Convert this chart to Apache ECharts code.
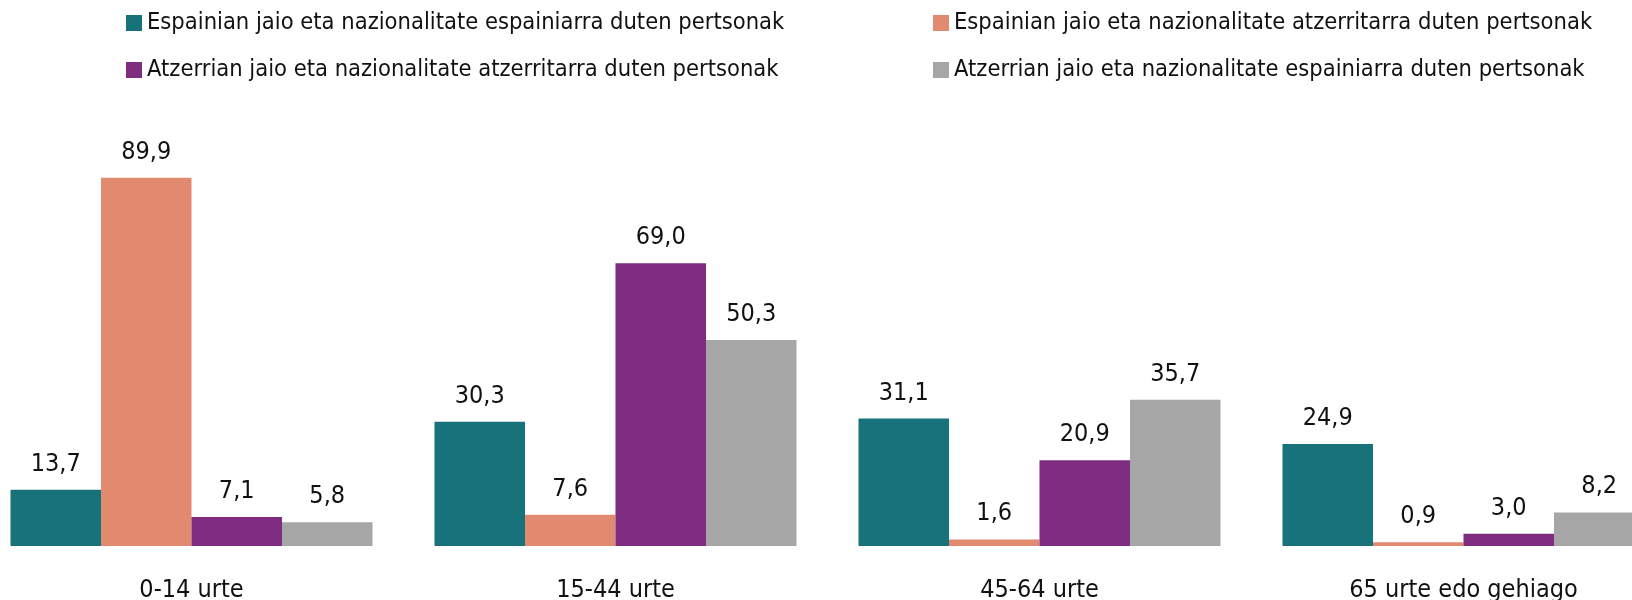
<!DOCTYPE html>
<html>
<head>
<meta charset="utf-8">
<script src="https://cdn.jsdelivr.net/npm/echarts@6/dist/echarts.min.js"></script>
<style>
  html, body { margin: 0; padding: 0; background: #fff; }
  #chart { width: 1632px; height: 600px; }
</style>
</head>
<body>
<div id="chart"></div>
<script>
const categories = ["0-14 urte", "15-44 urte", "45-64 urte", "65 urte edo gehiago"];
const seriesNames = [
  "Espainian jaio eta nazionalitate espainiarra duten pertsonak",
  "Espainian jaio eta nazionalitate atzerritarra duten pertsonak",
  "Atzerrian jaio eta nazionalitate atzerritarra duten pertsonak",
  "Atzerrian jaio eta nazionalitate espainiarra duten pertsonak",
];
const bornSpainSpanish = [13.7, 30.3, 31.1, 24.9];
const bornSpainForeign = [89.9, 7.6, 1.6, 0.9];
const bornAbroadForeign = [7.1, 69.0, 20.9, 3.0];
const bornAbroadSpanish = [5.8, 50.3, 35.7, 8.2];
const colors = ["#177379", "#E28A6F", "#7E2D80", "#A6A6A6"];

const font = "'Liberation Sans Narrow', 'DejaVu Sans Condensed', sans-serif";
const chart = echarts.init(document.getElementById("chart"));

const values = [bornSpainSpanish, bornSpainForeign, bornAbroadForeign, bornAbroadSpanish];
const series = values.map((data, i) => ({
  name: seriesNames[i],
  type: "bar",
  data: data,
  barWidth: 90.5,
  barGap: "0%",
  itemStyle: { color: colors[i] },
  label: {
    show: true,
    position: "top",
    distance: 13,
    fontFamily: font,
    fontSize: 25,
    color: "#111",
    formatter: (p) => p.value.toFixed(1).replace(".", ","),
  },
}));

const legendBase = {
  orient: "vertical",
  top: 6,
  itemWidth: 16,
  itemHeight: 16,
  itemGap: 23,
  icon: "rect",
  textStyle: { fontFamily: font, fontSize: 23.5, color: "#111" },
};

chart.setOption({
  color: colors,
  animation: false,
  legend: [
    { ...legendBase, left: 121, data: [seriesNames[0], seriesNames[2]] },
    { ...legendBase, left: 928, data: [seriesNames[1], seriesNames[3]] },
  ],
  grid: { left: -20.5, top: 136.3, width: 1696, height: 409.7, outerBoundsMode: "none", containLabel: false },
  xAxis: {
    type: "category",
    data: categories,
    axisLine: { show: false },
    axisTick: { show: false },
    axisLabel: { fontFamily: font, fontSize: 25, color: "#111", margin: 32 },
  },
  yAxis: {
    type: "value",
    min: 0,
    max: 100,
    show: false,
  },
  series,
});
</script>
</body>
</html>
